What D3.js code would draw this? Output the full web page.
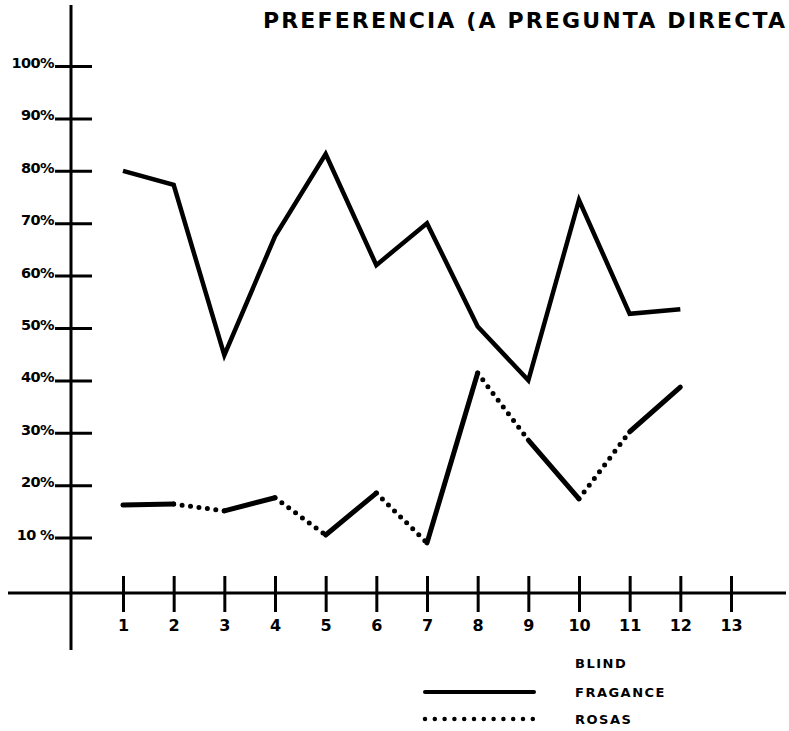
<!DOCTYPE html>
<html>
<head>
<meta charset="utf-8">
<script src="https://cdn.jsdelivr.net/npm/d3@7"></script>
<style>
  body { margin: 0; background: #fff; }
  svg { display: block; }
  text { font-family: 'DejaVu Sans', 'Liberation Sans', sans-serif; font-weight: bold; fill: #000; }
</style>
</head>
<body>
<svg id="container"></svg>
<script>
// data
const months = [1, 2, 3, 4, 5, 6, 7, 8, 9, 10, 11, 12]
const xTicks = [1, 2, 3, 4, 5, 6, 7, 8, 9, 10, 11, 12, 13]
const yTicks = [10, 20, 30, 40, 50, 60, 70, 80, 90, 100]
const yTickLabels = ['10 %', '20%', '30%', '40%', '50%', '60%', '70%', '80%', '90%', '100%']
const upperValues = [80, 77.3, 44.8, 67.5, 83.2, 62, 70, 50.3, 40, 74.4, 52.7, 53.6]
const lowerValues = [16.2, 16.4, 15.1, 17.6, 10.5, 18.5, 9, 41.4, 28.6, 17.4, 30.2, 38.7]
// style of each lower segment (i -> i+1): F = fragance (solid), R = rosas (dotted)
const lowerSegments = ['F', 'R', 'F', 'R', 'F', 'R', 'F', 'R', 'F', 'R', 'F']
const titleText = 'PREFERENCIA (A PREGUNTA DIRECTA'
const legendTitle = 'BLIND'
const legendItems = [
  { key: 'F', label: 'FRAGANCE' },
  { key: 'R', label: 'ROSAS' },
]

const W = 789,
  H = 731

const svg = d3.select('#container').attr('width', W).attr('height', H)

const x = d3.scaleLinear().domain([1, 13]).range([123, 731])
const y = d3.scaleLinear().domain([0, 100]).range([590, 66])

const axisX = 71,
  axisY = 593

// title, squeezed so the last letter still fits
svg
  .append('text')
  .attr('x', 263)
  .attr('y', 28)
  .attr('font-size', 22)
  .attr('textLength', 522)
  .attr('lengthAdjust', 'spacing')
  .text(titleText)

// main axis lines
svg
  .append('line')
  .attr('x1', axisX)
  .attr('x2', axisX)
  .attr('y1', 5)
  .attr('y2', 650)
  .attr('stroke', '#000')
  .attr('stroke-width', 3)

svg
  .append('line')
  .attr('x1', 8)
  .attr('x2', 786)
  .attr('y1', axisY)
  .attr('y2', axisY)
  .attr('stroke', '#000')
  .attr('stroke-width', 3)

// y axis: ticks cross the axis line
const gY = svg
  .append('g')
  .attr('transform', `translate(${axisX},0)`)
  .call(
    d3
      .axisLeft(y)
      .tickValues(yTicks)
      .tickFormat((d, i) => yTickLabels[i])
      .tickSize(17)
      .tickPadding(3)
  )
gY.select('.domain').remove()
gY.selectAll('.tick line').attr('x1', -16).attr('x2', 21).attr('stroke', '#000').attr('stroke-width', 3)
gY.selectAll('.tick text')
  .attr('font-size', 14.5)
  .attr('font-family', "'DejaVu Sans', 'Liberation Sans', sans-serif")
  .attr('font-weight', 'bold')
  .attr('letter-spacing', -0.6)
  .attr('dy', '0.1em')
  .attr('x', -17)

// x axis
const gX = svg
  .append('g')
  .attr('transform', `translate(0,${axisY})`)
  .call(d3.axisBottom(x).tickValues(xTicks).tickFormat(d3.format('d')).tickSize(19).tickPadding(8))
gX.select('.domain').remove()
gX.selectAll('.tick line').attr('y1', -17).attr('y2', 19).attr('stroke', '#000').attr('stroke-width', 3)
gX.selectAll('.tick text')
  .attr('font-size', 16)
  .attr('font-family', "'DejaVu Sans', 'Liberation Sans', sans-serif")
  .attr('font-weight', 'bold')

const line = d3
  .line()
  .x((d) => x(d.m))
  .y((d) => y(d.v))

// upper series, solid all along
svg
  .append('path')
  .datum(months.map((m, i) => ({ m, v: upperValues[i] })))
  .attr('fill', 'none')
  .attr('stroke', '#000')
  .attr('stroke-width', 4.5)
  .attr('stroke-linejoin', 'miter')
  .attr('d', line)

// lower series, one path per segment
const segs = lowerSegments.map((k, i) => ({
  k,
  pts: [
    { m: months[i], v: lowerValues[i] },
    { m: months[i + 1], v: lowerValues[i + 1] },
  ],
}))

function styleFor(sel, k) {
  if (k === 'F') {
    sel.attr('stroke-width', 5).attr('stroke-linecap', 'round')
  } else {
    sel.attr('stroke-width', 5).attr('stroke-linecap', 'round').attr('stroke-dasharray', '0 8.5')
  }
}

svg
  .selectAll('.seg')
  .data(segs)
  .enter()
  .append('path')
  .attr('class', 'seg')
  .attr('fill', 'none')
  .attr('stroke', '#000')
  .attr('d', (d) => line(d.pts))
  .each(function (d) {
    styleFor(d3.select(this), d.k)
  })

// legend
svg
  .append('text')
  .attr('x', 575)
  .attr('y', 668)
  .attr('font-size', 13)
  .attr('letter-spacing', 1.5)
  .text(legendTitle)

const legend = svg
  .selectAll('.legend')
  .data(legendItems)
  .enter()
  .append('g')
  .attr('class', 'legend')
  .attr('transform', (d, i) => `translate(0,${692 + i * 27})`)

legend
  .append('line')
  .attr('x1', 425)
  .attr('x2', 534)
  .attr('stroke', '#000')
  .each(function (d) {
    styleFor(d3.select(this), d.key)
    if (d.key === 'F') d3.select(this).attr('stroke-width', 4)
    else d3.select(this).attr('stroke-dasharray', '0 9.8').attr('stroke-width', 4.5)
  })

legend
  .append('text')
  .attr('x', 575)
  .attr('y', 5)
  .attr('font-size', 13)
  .attr('letter-spacing', 1.5)
  .text((d) => d.label)
</script>
</body>
</html>
